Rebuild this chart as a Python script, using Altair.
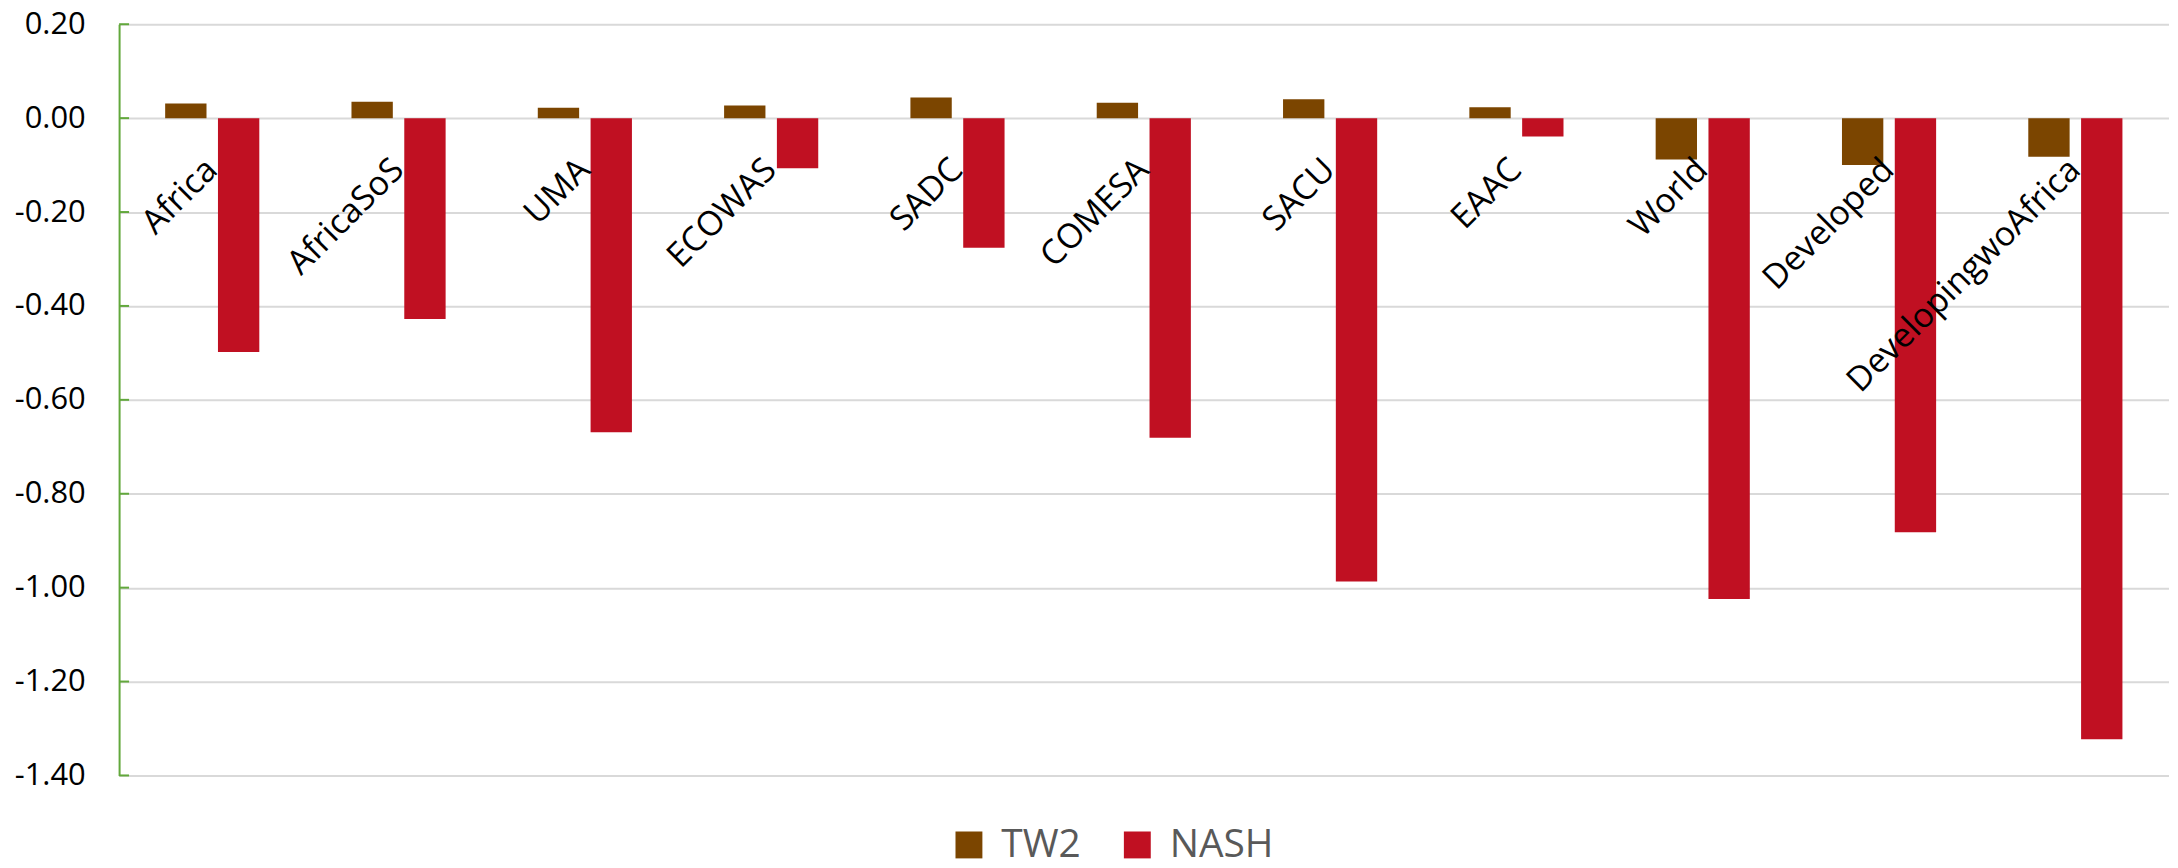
import altair as alt
import pandas as pd

categories = ["Africa", "AfricaSoS", "UMA", "ECOWAS", "SADC", "COMESA", "SACU",
              "EAAC", "World", "Developed", "DevelopingwoAfrica"]
tw2 = [0.031, 0.035, 0.022, 0.027, 0.044, 0.033, 0.040, 0.023, -0.088, -0.100, -0.082]
nash = [-0.498, -0.428, -0.669, -0.107, -0.276, -0.681, -0.987, -0.039, -1.024, -0.882, -1.323]
series = ["TW2", "NASH"]
colors = ["#7B4500", "#C01022"]
y_ticks = [0.2, 0.0, -0.2, -0.4, -0.6, -0.8, -1.0, -1.2, -1.4]

rows = []
for c, a, b in zip(categories, tw2, nash):
    rows.append({"cat": c, "series": "TW2", "value": a})
    rows.append({"cat": c, "series": "NASH", "value": b})
df = pd.DataFrame(rows)
cat_df = pd.DataFrame({"cat": categories})
tick_df = pd.DataFrame({"v": y_ticks})

W, H = 2057, 754
x_scale = alt.Scale(domain=categories, paddingInner=0.4947, paddingOuter=0.2473)
y_scale = alt.Scale(domain=[-1.4, 0.2], nice=False, zero=False)

bars = alt.Chart(df).mark_bar(strokeWidth=0).encode(
    x=alt.X("cat:N", scale=x_scale, axis=None, sort=categories),
    xOffset=alt.XOffset("series:N", sort=series,
                        scale=alt.Scale(domain=series, paddingInner=0.217, paddingOuter=0)),
    y=alt.Y("value:Q", scale=y_scale,
            axis=alt.Axis(values=y_ticks, title=None, ticks=False, tickSize=0,
                          labelPadding=34, labelFont="Open Sans", labelFontSize=31,
                          labelColor="#000000",
                          labelExpr="(datum.value < -1e-9 ? '-' : '') + format(abs(datum.value), '.2f')",
                          grid=True, gridColor="#d9d9d9", gridWidth=2,
                          domain=True, domainColor="#62A83C", domainWidth=2)),
    color=alt.Color("series:N", sort=series,
                    scale=alt.Scale(domain=series, range=colors),
                    legend=alt.Legend(orient="none", legendX=833.5, legendY=804,
                                      direction="horizontal", title=None,
                                      symbolType="square", symbolSize=729,
                                      symbolStrokeWidth=0, labelFont="Open Sans",
                                      labelFontSize=39, labelColor="#595959",
                                      labelOffset=13, columnPadding=37, padding=0,
                                      labelLimit=500)),
)

ticks = alt.Chart(tick_df).mark_rule(color="#62A83C", strokeWidth=2).encode(
    y=alt.Y("v:Q", scale=y_scale),
    x=alt.value(0),
    x2=alt.value(10),
)

labels = alt.Chart(cat_df).mark_text(
    font="Open Sans", fontSize=34, color="#000000", angle=315,
    align="right", baseline="alphabetic", dx=-33.2, dy=43.1,
).encode(
    x=alt.X("cat:N", scale=x_scale, sort=categories),
    y=alt.datum(0),
    text="cat:N",
)

chart = alt.layer(bars, ticks, labels).properties(
    width=W, height=H,
    autosize=alt.AutoSizeParams(type="none"),
    padding={"left": 111.5, "top": 14.7, "right": 1.5, "bottom": 91.3},
).configure_view(strokeWidth=0)

chart.save("out.html", embed_options={"renderer": "svg", "actions": False})
